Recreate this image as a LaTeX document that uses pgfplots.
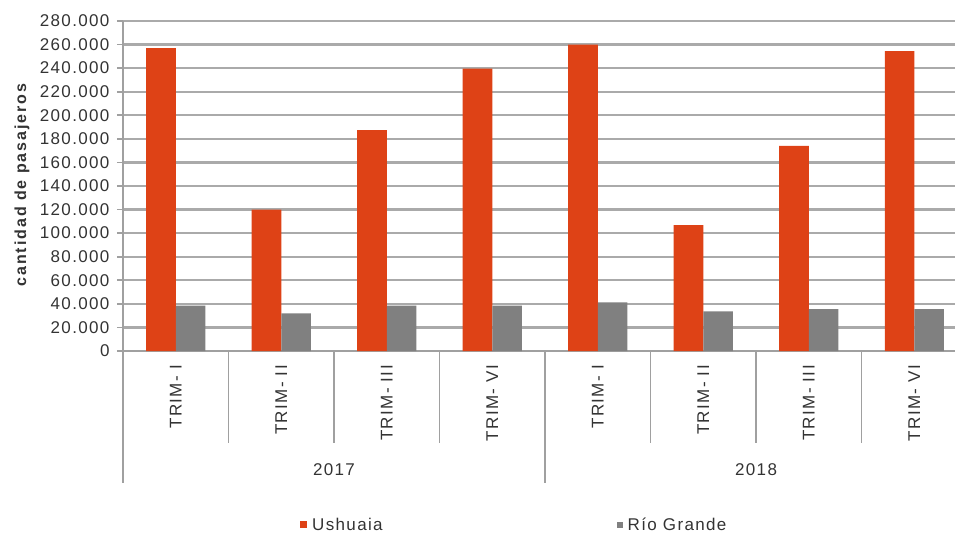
\documentclass[border=0pt]{standalone}
\usepackage{fontspec}
\setmainfont{Liberation Sans}[LetterSpace=8]
\usepackage{pgfplots}
\pgfplotsset{compat=1.18}
\definecolor{ush}{HTML}{DE4216}
\definecolor{rio}{HTML}{808080}
\definecolor{gridc}{HTML}{AAAAAA}
\definecolor{axc}{HTML}{A0A0A0}
\definecolor{txtc}{HTML}{333333}
\newcommand\lbl{\fontsize{17}{20}\selectfont}
\begin{document}
\begin{tikzpicture}[x=1pt,y=1pt]
\useasboundingbox (0,0) rectangle (955,538);
\begin{axis}[
  at={(123pt,187pt)}, anchor=south west,
  scale only axis, width=832pt, height=330pt,
  xmin=-0.5, xmax=7.386, ymin=0, ymax=280000,
  axis lines*=left,
  axis line style={draw=axc, line width=1.6pt},
  clip=false,
  ymajorgrids, grid style={draw=gridc, line width=2.2pt},
  ytick={0,20000,40000,60000,80000,100000,120000,140000,160000,180000,200000,220000,240000,260000,280000},
  yticklabels={0,20.000,40.000,60.000,80.000,100.000,120.000,140.000,160.000,180.000,200.000,220.000,240.000,260.000,280.000},
  scaled y ticks=false,
  ytick style={draw=axc, line width=1.6pt},
  yticklabel style={xshift=-4pt},
  major tick length=6pt, tick align=outside,
  xtick={0,...,7},
  xticklabels={TRIM- I,TRIM- II,TRIM- III,TRIM- VI,TRIM- I,TRIM- II,TRIM- III,TRIM- VI},
  xtick style={draw=none},
  xticklabel style={rotate=90, anchor=east, inner sep=0pt},
  xticklabel shift=8pt,
  tick label style={font=\lbl, text=txtc},
  ylabel={\bfseries\addfontfeatures{LetterSpace=12}cantidad de pasajeros},
  ylabel style={at={(axis description cs:-0.1214,0.503)}, anchor=center, font=\fontsize{16}{19}\selectfont, text=txtc},
  legend style={draw=none, fill=none, inner sep=0pt,
    at={(axis description cs:0.2127,-0.527)}, anchor=west,
    font=\lbl, text=txtc,
    /tikz/every odd column/.append style={column sep=3pt},
    /tikz/every even column/.append style={column sep=232pt}},
  legend columns=2,
]
\addplot[ybar, bar width=0.28, bar shift=-0.14, fill=ush, draw=none,
  legend image code/.code={\fill[ush] (0pt,-3.5pt) rectangle (7pt,3.5pt);}]
  coordinates {(0,257000) (1,120000) (2,187500) (3,239500) (4,260000) (5,106700) (6,174000) (7,254500)};
\addplot[ybar, bar width=0.28, bar shift=0.14, fill=rio, draw=none,
  legend image code/.code={\fill[rio] (0pt,-3pt) rectangle (6pt,3pt);}]
  coordinates {(0,38500) (1,32000) (2,38500) (3,38500) (4,41300) (5,33700) (6,35500) (7,35500)};
\legend{Ushuaia, Río Grande}
\pgfplotsinvokeforeach{0.5,1.5,2.5,4.5,5.5,6.5}{
  \draw[axc, line width=1.4pt] (axis cs:#1,0) -- ([yshift=-92pt]axis cs:#1,0);
}
\pgfplotsinvokeforeach{-0.5,3.5}{
  \draw[axc, line width=1.4pt] (axis cs:#1,0) -- ([yshift=-132pt]axis cs:#1,0);
}
\node[font=\lbl, text=txtc] at ([yshift=-119pt]axis cs:1.5,0) {2017};
\node[font=\lbl, text=txtc] at ([yshift=-119pt]axis cs:5.5,0) {2018};
\end{axis}
\end{tikzpicture}
\end{document}
